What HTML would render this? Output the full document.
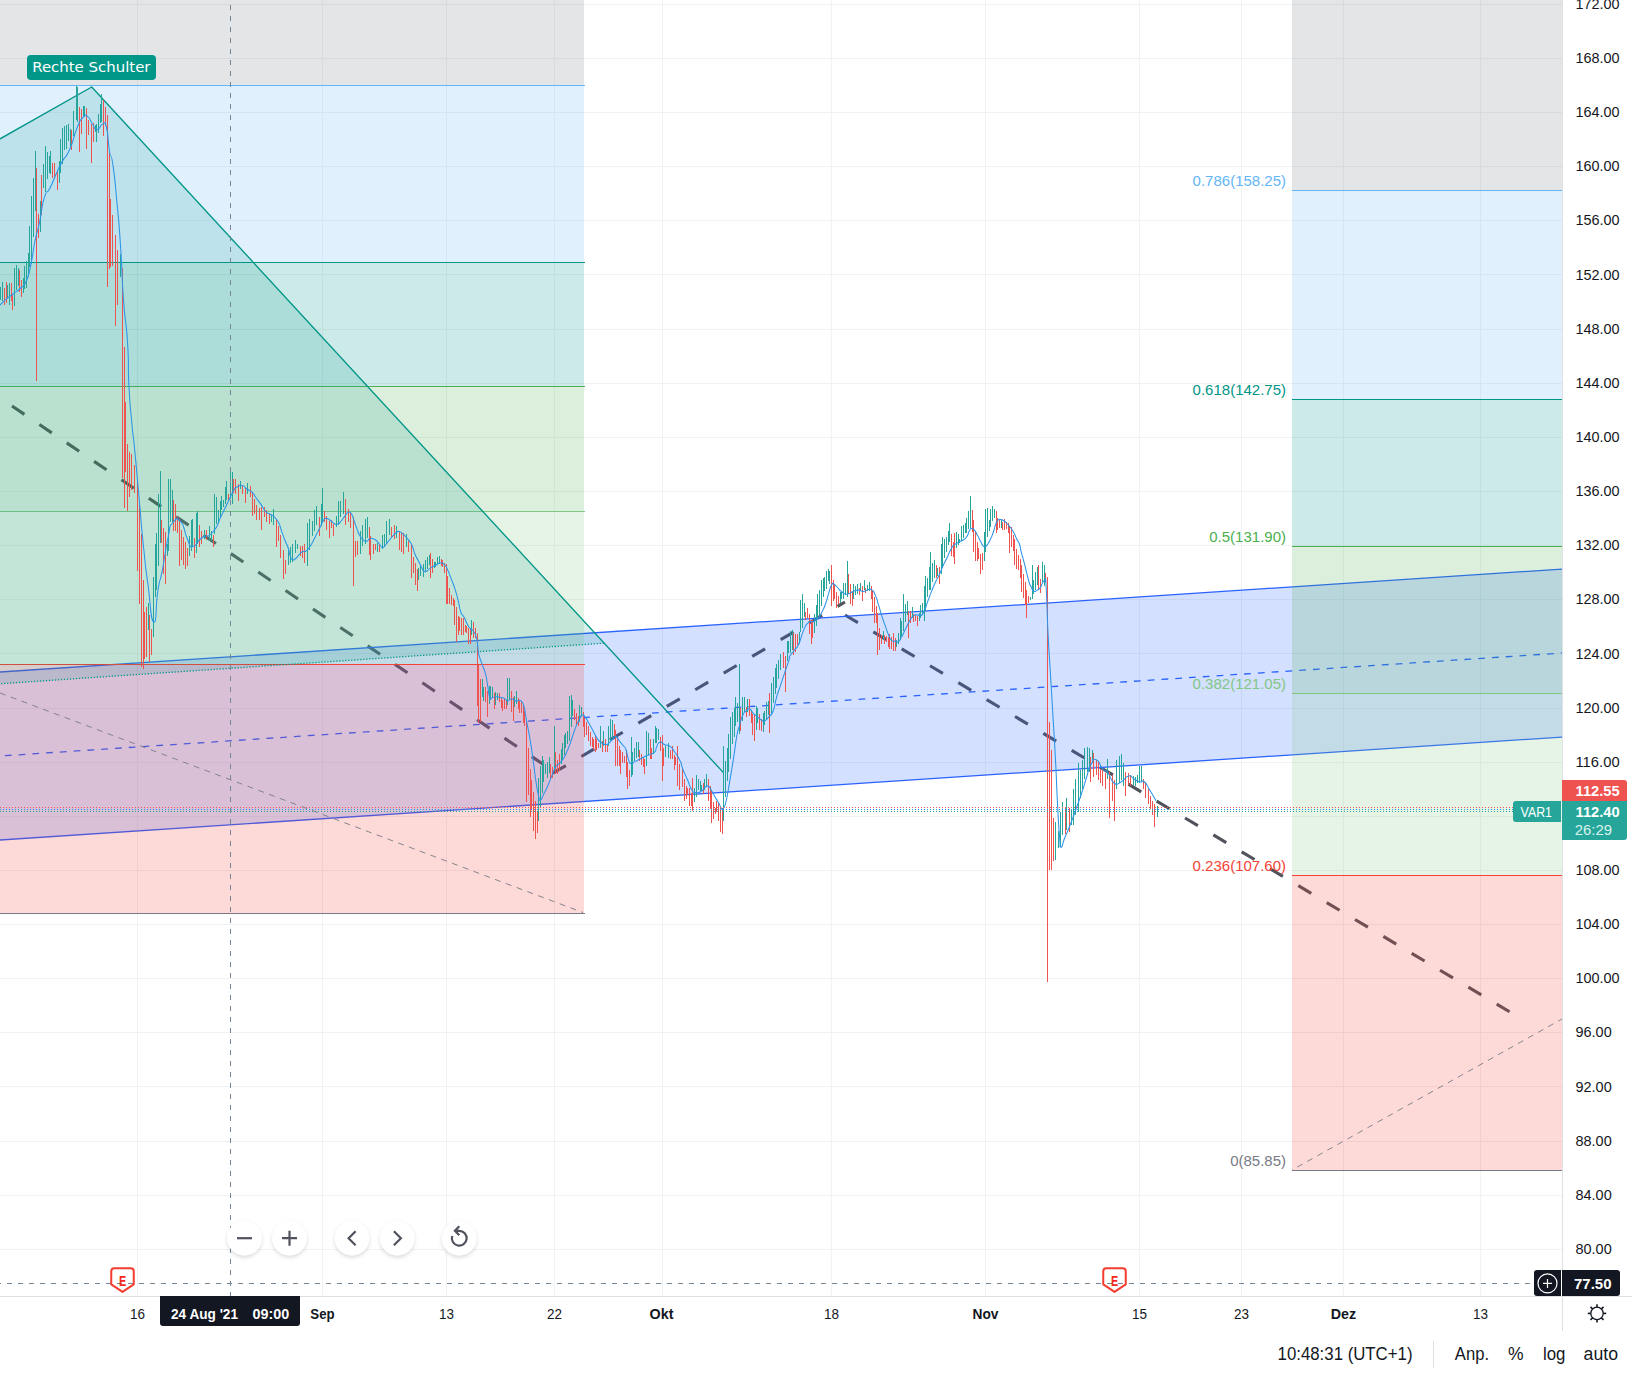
<!DOCTYPE html>
<html lang="de"><head><meta charset="utf-8"><title>Chart</title>
<style>
html,body{margin:0;padding:0;background:#fff;}
body{width:1632px;height:1378px;overflow:hidden;font-family:"Liberation Sans", "DejaVu Sans", sans-serif;}
svg{display:block;position:absolute;left:0;top:0}
text{font-family:"Liberation Sans", "DejaVu Sans", sans-serif;}
.ax{font-size:15px;fill:#131722}
.axb{font-size:15px;fill:#131722;font-weight:bold}
.fib{font-size:15px}
.bb{font-size:17.5px;fill:#131722}
</style></head><body>
<svg width="1632" height="1378" viewBox="0 0 1632 1378">
<defs>
<clipPath id="pane"><rect x="0" y="0" width="1562" height="1296"/></clipPath>
<filter id="sh" x="-50%" y="-50%" width="200%" height="200%"><feGaussianBlur stdDeviation="2.2"/></filter>
</defs>
<rect width="1632" height="1378" fill="#fff"/>

<g shape-rendering="crispEdges" stroke="#f0f2f3" stroke-width="1">
<line x1="137.5" y1="0" x2="137.5" y2="1296"/>
<line x1="322.5" y1="0" x2="322.5" y2="1296"/>
<line x1="446.5" y1="0" x2="446.5" y2="1296"/>
<line x1="554.5" y1="0" x2="554.5" y2="1296"/>
<line x1="662.5" y1="0" x2="662.5" y2="1296"/>
<line x1="831.5" y1="0" x2="831.5" y2="1296"/>
<line x1="985.5" y1="0" x2="985.5" y2="1296"/>
<line x1="1139.5" y1="0" x2="1139.5" y2="1296"/>
<line x1="1241.5" y1="0" x2="1241.5" y2="1296"/>
<line x1="1343.5" y1="0" x2="1343.5" y2="1296"/>
<line x1="1480.5" y1="0" x2="1480.5" y2="1296"/>
<line x1="0" y1="4.5" x2="1562" y2="4.5"/>
<line x1="0" y1="58.5" x2="1562" y2="58.5"/>
<line x1="0" y1="112.5" x2="1562" y2="112.5"/>
<line x1="0" y1="166.5" x2="1562" y2="166.5"/>
<line x1="0" y1="220.5" x2="1562" y2="220.5"/>
<line x1="0" y1="274.5" x2="1562" y2="274.5"/>
<line x1="0" y1="329.5" x2="1562" y2="329.5"/>
<line x1="0" y1="383.5" x2="1562" y2="383.5"/>
<line x1="0" y1="437.5" x2="1562" y2="437.5"/>
<line x1="0" y1="491.5" x2="1562" y2="491.5"/>
<line x1="0" y1="545.5" x2="1562" y2="545.5"/>
<line x1="0" y1="599.5" x2="1562" y2="599.5"/>
<line x1="0" y1="653.5" x2="1562" y2="653.5"/>
<line x1="0" y1="708.5" x2="1562" y2="708.5"/>
<line x1="0" y1="762.5" x2="1562" y2="762.5"/>
<line x1="0" y1="816.5" x2="1562" y2="816.5"/>
<line x1="0" y1="870.5" x2="1562" y2="870.5"/>
<line x1="0" y1="924.5" x2="1562" y2="924.5"/>
<line x1="0" y1="978.5" x2="1562" y2="978.5"/>
<line x1="0" y1="1032.5" x2="1562" y2="1032.5"/>
<line x1="0" y1="1086.5" x2="1562" y2="1086.5"/>
<line x1="0" y1="1141.5" x2="1562" y2="1141.5"/>
<line x1="0" y1="1195.5" x2="1562" y2="1195.5"/>
<line x1="0" y1="1249.5" x2="1562" y2="1249.5"/>
</g>
<g clip-path="url(#pane)">
<line x1="12" y1="406" x2="543.5" y2="764.5" stroke="#131722" stroke-opacity="0.74" stroke-width="3.1" stroke-dasharray="15 18" fill="none"/>
<line x1="552.9" y1="773.2" x2="845" y2="602" stroke="#131722" stroke-opacity="0.74" stroke-width="3.1" stroke-dasharray="15 18" fill="none"/>
<line x1="845" y1="615" x2="1510" y2="1012" stroke="#131722" stroke-opacity="0.74" stroke-width="3.1" stroke-dasharray="15 18" fill="none"/>
<polygon points="-2,672.1318 1564,568.9324 1564,736.9324 -2,840.1318" fill="#2962ff" fill-opacity="0.2"/>
<line x1="-2" y1="672.1318" x2="1564" y2="568.9324" stroke="#2962ff" stroke-width="1.3"/>
<line x1="-2" y1="840.1318" x2="1564" y2="736.9324" stroke="#2962ff" stroke-width="1.3"/>
<line x1="-2" y1="756.1318" x2="1564" y2="652.9324" stroke="#2962ff" stroke-width="1.3" stroke-dasharray="6.8 7" stroke-dashoffset="7"/>
<g shape-rendering="crispEdges">
<rect x="0" y="0" width="584" height="85" fill="#787b86" fill-opacity="0.2"/>
<rect x="0" y="85" width="584" height="177" fill="#64b5f6" fill-opacity="0.2"/>
<rect x="0" y="262" width="584" height="124" fill="#009688" fill-opacity="0.2"/>
<rect x="0" y="386" width="584" height="125" fill="#4caf50" fill-opacity="0.2"/>
<rect x="0" y="511" width="584" height="153" fill="#81c784" fill-opacity="0.2"/>
<rect x="0" y="664" width="584" height="249" fill="#f44336" fill-opacity="0.2"/>
<rect x="0" y="85" width="585" height="1" fill="#64b5f6"/>
<rect x="0" y="262" width="585" height="1" fill="#009688"/>
<rect x="0" y="386" width="585" height="1" fill="#4caf50"/>
<rect x="0" y="511" width="585" height="1" fill="#81c784"/>
<rect x="0" y="664" width="585" height="1" fill="#f44336"/>
<rect x="0" y="913" width="585" height="1" fill="#787b86"/>
</g>
<g shape-rendering="crispEdges">
<rect x="1292" y="0" width="270" height="190" fill="#787b86" fill-opacity="0.2"/>
<rect x="1292" y="190" width="270" height="209" fill="#64b5f6" fill-opacity="0.2"/>
<rect x="1292" y="399" width="270" height="147" fill="#009688" fill-opacity="0.2"/>
<rect x="1292" y="546" width="270" height="147" fill="#4caf50" fill-opacity="0.2"/>
<rect x="1292" y="693" width="270" height="182" fill="#81c784" fill-opacity="0.2"/>
<rect x="1292" y="875" width="270" height="295" fill="#f44336" fill-opacity="0.2"/>
<rect x="1292" y="190" width="270" height="1" fill="#64b5f6"/>
<rect x="1292" y="399" width="270" height="1" fill="#009688"/>
<rect x="1292" y="546" width="270" height="1" fill="#4caf50"/>
<rect x="1292" y="693" width="270" height="1" fill="#81c784"/>
<rect x="1292" y="875" width="270" height="1" fill="#f44336"/>
<rect x="1292" y="1170" width="270" height="1" fill="#787b86"/>
</g>
<line x1="0" y1="693" x2="583" y2="912.5" stroke="#787b86" stroke-width="1" stroke-dasharray="6 5.5" opacity="0.9"/>
<line x1="1292" y1="1170" x2="1562" y2="1019" stroke="#787b86" stroke-width="1" stroke-dasharray="6 5.5" stroke-dashoffset="-6" opacity="0.9"/>
<polygon points="-2,140 91.7,87 603.6,643.2 -2,683.9" fill="#009688" fill-opacity="0.15"/>
<polyline points="-2,140 91.7,87 723.4,772.6" fill="none" stroke="#009688" stroke-width="1.35" stroke-linejoin="round"/>
<line x1="-2" y1="683.9" x2="604" y2="643.2" stroke="#009688" stroke-width="1.3" stroke-dasharray="1.3 1.7"/>
<g shape-rendering="crispEdges">
<rect x="107" y="115" width="1" height="172" fill="#ef5350"/>
<rect x="109" y="153" width="1" height="116" fill="#ef5350"/>
<rect x="110" y="199" width="1" height="68" fill="#ef5350"/>
<rect x="112" y="215" width="1" height="51" fill="#ef5350"/>
<rect x="115" y="235" width="1" height="91" fill="#ef5350"/>
<rect x="117" y="250" width="1" height="55" fill="#ef5350"/>
<rect x="120" y="254" width="1" height="23" fill="#26a69a"/>
<rect x="122" y="268" width="1" height="210" fill="#ef5350"/>
<rect x="124" y="347" width="1" height="161" fill="#ef5350"/>
<rect x="125" y="402" width="1" height="70" fill="#ef5350"/>
<rect x="127" y="444" width="1" height="67" fill="#ef5350"/>
<rect x="129" y="452" width="1" height="45" fill="#ef5350"/>
<rect x="131" y="454" width="1" height="36" fill="#ef5350"/>
<rect x="134" y="465" width="1" height="28" fill="#ef5350"/>
<rect x="137" y="481" width="1" height="90" fill="#ef5350"/>
<rect x="139" y="504" width="1" height="100" fill="#ef5350"/>
<rect x="141" y="534" width="1" height="133" fill="#ef5350"/>
<rect x="143" y="580" width="1" height="89" fill="#ef5350"/>
<rect x="144" y="612" width="1" height="47" fill="#ef5350"/>
<rect x="146" y="607" width="1" height="50" fill="#ef5350"/>
<rect x="148" y="603" width="1" height="27" fill="#26a69a"/>
<rect x="149" y="615" width="1" height="47" fill="#ef5350"/>
<rect x="151" y="629" width="1" height="26" fill="#ef5350"/>
<rect x="153" y="577" width="1" height="60" fill="#26a69a"/>
<rect x="155" y="544" width="1" height="53" fill="#26a69a"/>
<rect x="156" y="533" width="1" height="57" fill="#26a69a"/>
<rect x="158" y="494" width="1" height="72" fill="#26a69a"/>
<rect x="160" y="471" width="1" height="72" fill="#26a69a"/>
<rect x="161" y="520" width="1" height="23" fill="#ef5350"/>
<rect x="163" y="528" width="1" height="46" fill="#ef5350"/>
<rect x="165" y="532" width="1" height="52" fill="#ef5350"/>
<rect x="167" y="544" width="1" height="12" fill="#26a69a"/>
<rect x="168" y="479" width="1" height="72" fill="#26a69a"/>
<rect x="170" y="479" width="1" height="43" fill="#26a69a"/>
<rect x="172" y="490" width="1" height="32" fill="#26a69a"/>
<rect x="173" y="500" width="1" height="31" fill="#ef5350"/>
<rect x="175" y="504" width="1" height="27" fill="#ef5350"/>
<rect x="177" y="517" width="1" height="16" fill="#ef5350"/>
<rect x="179" y="519" width="1" height="47" fill="#ef5350"/>
<rect x="181" y="530" width="1" height="30" fill="#ef5350"/>
<rect x="183" y="537" width="1" height="28" fill="#ef5350"/>
<rect x="185" y="542" width="1" height="27" fill="#ef5350"/>
<rect x="187" y="548" width="1" height="18" fill="#ef5350"/>
<rect x="189" y="536" width="1" height="20" fill="#26a69a"/>
<rect x="191" y="520" width="1" height="31" fill="#26a69a"/>
<rect x="192" y="519" width="1" height="27" fill="#26a69a"/>
<rect x="194" y="538" width="1" height="20" fill="#ef5350"/>
<rect x="196" y="513" width="1" height="40" fill="#26a69a"/>
<rect x="197" y="511" width="1" height="33" fill="#26a69a"/>
<rect x="199" y="525" width="1" height="22" fill="#ef5350"/>
<rect x="201" y="531" width="1" height="13" fill="#ef5350"/>
<rect x="204" y="530" width="1" height="9" fill="#26a69a"/>
<rect x="206" y="530" width="1" height="10" fill="#ef5350"/>
<rect x="209" y="526" width="1" height="14" fill="#26a69a"/>
<rect x="211" y="531" width="1" height="10" fill="#26a69a"/>
<rect x="213" y="535" width="1" height="12" fill="#ef5350"/>
<rect x="214" y="494" width="1" height="40" fill="#26a69a"/>
<rect x="216" y="497" width="1" height="27" fill="#26a69a"/>
<rect x="218" y="510" width="1" height="14" fill="#26a69a"/>
<rect x="220" y="501" width="1" height="16" fill="#26a69a"/>
<rect x="221" y="496" width="1" height="14" fill="#26a69a"/>
<rect x="223" y="500" width="1" height="7" fill="#26a69a"/>
<rect x="225" y="487" width="1" height="17" fill="#26a69a"/>
<rect x="226" y="481" width="1" height="19" fill="#26a69a"/>
<rect x="228" y="494" width="1" height="7" fill="#ef5350"/>
<rect x="29" y="226" width="1" height="41" fill="#26a69a"/>
<rect x="31" y="196" width="1" height="68" fill="#26a69a"/>
<rect x="33" y="178" width="1" height="59" fill="#26a69a"/>
<rect x="35" y="151" width="1" height="60" fill="#26a69a"/>
<rect x="36" y="168" width="1" height="213" fill="#ef5350"/>
<rect x="38" y="214" width="1" height="24" fill="#ef5350"/>
<rect x="40" y="201" width="1" height="31" fill="#26a69a"/>
<rect x="41" y="175" width="1" height="40" fill="#ef5350"/>
<rect x="43" y="164" width="1" height="24" fill="#26a69a"/>
<rect x="45" y="146" width="1" height="46" fill="#26a69a"/>
<rect x="47" y="152" width="1" height="27" fill="#26a69a"/>
<rect x="49" y="156" width="1" height="17" fill="#26a69a"/>
<rect x="50" y="151" width="1" height="23" fill="#26a69a"/>
<rect x="52" y="163" width="1" height="15" fill="#ef5350"/>
<rect x="54" y="163" width="1" height="16" fill="#ef5350"/>
<rect x="57" y="171" width="1" height="19" fill="#ef5350"/>
<rect x="59" y="161" width="1" height="22" fill="#26a69a"/>
<rect x="60" y="139" width="1" height="34" fill="#26a69a"/>
<rect x="62" y="128" width="1" height="36" fill="#26a69a"/>
<rect x="64" y="126" width="1" height="24" fill="#26a69a"/>
<rect x="66" y="125" width="1" height="24" fill="#26a69a"/>
<rect x="68" y="124" width="1" height="17" fill="#26a69a"/>
<rect x="70" y="129" width="1" height="17" fill="#26a69a"/>
<rect x="71" y="130" width="1" height="20" fill="#ef5350"/>
<rect x="73" y="111" width="1" height="25" fill="#26a69a"/>
<rect x="76" y="86" width="1" height="34" fill="#26a69a"/>
<rect x="77" y="87" width="1" height="35" fill="#26a69a"/>
<rect x="79" y="107" width="1" height="45" fill="#ef5350"/>
<rect x="81" y="109" width="1" height="25" fill="#ef5350"/>
<rect x="83" y="106" width="1" height="11" fill="#26a69a"/>
<rect x="84" y="106" width="1" height="11" fill="#26a69a"/>
<rect x="86" y="108" width="1" height="41" fill="#ef5350"/>
<rect x="88" y="120" width="1" height="15" fill="#ef5350"/>
<rect x="91" y="124" width="1" height="39" fill="#ef5350"/>
<rect x="93" y="123" width="1" height="19" fill="#ef5350"/>
<rect x="95" y="125" width="1" height="7" fill="#26a69a"/>
<rect x="96" y="124" width="1" height="18" fill="#26a69a"/>
<rect x="98" y="114" width="1" height="19" fill="#26a69a"/>
<rect x="100" y="104" width="1" height="19" fill="#26a69a"/>
<rect x="101" y="94" width="1" height="28" fill="#26a69a"/>
<rect x="103" y="100" width="1" height="36" fill="#ef5350"/>
<rect x="105" y="107" width="1" height="19" fill="#ef5350"/>
<rect x="1047" y="577" width="1" height="405" fill="#ef5350"/>
<rect x="1049" y="722" width="1" height="148" fill="#ef5350"/>
<rect x="1051" y="750" width="1" height="120" fill="#ef5350"/>
<rect x="1053" y="818" width="1" height="43" fill="#ef5350"/>
<rect x="1055" y="822" width="1" height="38" fill="#26a69a"/>
<rect x="1058" y="831" width="1" height="17" fill="#26a69a"/>
<rect x="1060" y="812" width="1" height="35" fill="#26a69a"/>
<rect x="1062" y="802" width="1" height="33" fill="#26a69a"/>
<rect x="1065" y="808" width="1" height="26" fill="#ef5350"/>
<rect x="1066" y="798" width="1" height="32" fill="#26a69a"/>
<rect x="1069" y="808" width="1" height="24" fill="#ef5350"/>
<rect x="1071" y="809" width="1" height="16" fill="#26a69a"/>
<rect x="1073" y="789" width="1" height="36" fill="#26a69a"/>
<rect x="1075" y="779" width="1" height="36" fill="#26a69a"/>
<rect x="1078" y="763" width="1" height="49" fill="#26a69a"/>
<rect x="1080" y="770" width="1" height="28" fill="#26a69a"/>
<rect x="1082" y="760" width="1" height="29" fill="#26a69a"/>
<rect x="1084" y="748" width="1" height="31" fill="#26a69a"/>
<rect x="1087" y="747" width="1" height="25" fill="#26a69a"/>
<rect x="1089" y="748" width="1" height="24" fill="#26a69a"/>
<rect x="1090" y="757" width="1" height="25" fill="#ef5350"/>
<rect x="1092" y="750" width="1" height="13" fill="#26a69a"/>
<rect x="1093" y="753" width="1" height="24" fill="#ef5350"/>
<rect x="1096" y="760" width="1" height="15" fill="#ef5350"/>
<rect x="1098" y="761" width="1" height="19" fill="#ef5350"/>
<rect x="1100" y="769" width="1" height="14" fill="#ef5350"/>
<rect x="1102" y="769" width="1" height="17" fill="#ef5350"/>
<rect x="1105" y="773" width="1" height="16" fill="#ef5350"/>
<rect x="1107" y="759" width="1" height="20" fill="#26a69a"/>
<rect x="1109" y="772" width="1" height="46" fill="#ef5350"/>
<rect x="1112" y="775" width="1" height="26" fill="#ef5350"/>
<rect x="1114" y="780" width="1" height="41" fill="#ef5350"/>
<rect x="1116" y="760" width="1" height="29" fill="#26a69a"/>
<rect x="1119" y="756" width="1" height="27" fill="#26a69a"/>
<rect x="1121" y="754" width="1" height="26" fill="#26a69a"/>
<rect x="1123" y="763" width="1" height="23" fill="#26a69a"/>
<rect x="1125" y="772" width="1" height="24" fill="#ef5350"/>
<rect x="1128" y="773" width="1" height="12" fill="#ef5350"/>
<rect x="1130" y="775" width="1" height="11" fill="#ef5350"/>
<rect x="1133" y="776" width="1" height="9" fill="#26a69a"/>
<rect x="1135" y="777" width="1" height="9" fill="#26a69a"/>
<rect x="1137" y="775" width="1" height="8" fill="#26a69a"/>
<rect x="1139" y="766" width="1" height="17" fill="#26a69a"/>
<rect x="1141" y="766" width="1" height="16" fill="#26a69a"/>
<rect x="1143" y="779" width="1" height="10" fill="#ef5350"/>
<rect x="1145" y="782" width="1" height="16" fill="#ef5350"/>
<rect x="1148" y="789" width="1" height="15" fill="#ef5350"/>
<rect x="1150" y="796" width="1" height="13" fill="#ef5350"/>
<rect x="1152" y="801" width="1" height="14" fill="#ef5350"/>
<rect x="1154" y="804" width="1" height="23" fill="#ef5350"/>
<rect x="1157" y="806" width="1" height="11" fill="#26a69a"/>
<rect x="230" y="472" width="1" height="27" fill="#26a69a"/>
<rect x="232" y="472" width="1" height="32" fill="#26a69a"/>
<rect x="233" y="479" width="1" height="14" fill="#ef5350"/>
<rect x="235" y="479" width="1" height="15" fill="#ef5350"/>
<rect x="238" y="484" width="1" height="17" fill="#ef5350"/>
<rect x="240" y="481" width="1" height="8" fill="#26a69a"/>
<rect x="242" y="486" width="1" height="8" fill="#ef5350"/>
<rect x="245" y="488" width="1" height="15" fill="#ef5350"/>
<rect x="247" y="483" width="1" height="11" fill="#26a69a"/>
<rect x="250" y="486" width="1" height="11" fill="#ef5350"/>
<rect x="252" y="492" width="1" height="24" fill="#ef5350"/>
<rect x="254" y="499" width="1" height="15" fill="#ef5350"/>
<rect x="256" y="505" width="1" height="15" fill="#ef5350"/>
<rect x="259" y="508" width="1" height="12" fill="#ef5350"/>
<rect x="261" y="507" width="1" height="23" fill="#ef5350"/>
<rect x="264" y="507" width="1" height="10" fill="#ef5350"/>
<rect x="266" y="510" width="1" height="12" fill="#ef5350"/>
<rect x="269" y="514" width="1" height="10" fill="#ef5350"/>
<rect x="271" y="515" width="1" height="7" fill="#26a69a"/>
<rect x="273" y="509" width="1" height="16" fill="#26a69a"/>
<rect x="276" y="519" width="1" height="28" fill="#ef5350"/>
<rect x="278" y="526" width="1" height="15" fill="#ef5350"/>
<rect x="280" y="535" width="1" height="23" fill="#ef5350"/>
<rect x="283" y="550" width="1" height="29" fill="#ef5350"/>
<rect x="285" y="560" width="1" height="14" fill="#ef5350"/>
<rect x="288" y="550" width="1" height="15" fill="#26a69a"/>
<rect x="290" y="547" width="1" height="16" fill="#26a69a"/>
<rect x="292" y="544" width="1" height="18" fill="#26a69a"/>
<rect x="295" y="540" width="1" height="13" fill="#26a69a"/>
<rect x="297" y="544" width="1" height="5" fill="#26a69a"/>
<rect x="300" y="546" width="1" height="10" fill="#ef5350"/>
<rect x="302" y="546" width="1" height="12" fill="#ef5350"/>
<rect x="304" y="544" width="1" height="19" fill="#ef5350"/>
<rect x="307" y="523" width="1" height="43" fill="#26a69a"/>
<rect x="309" y="519" width="1" height="31" fill="#26a69a"/>
<rect x="312" y="521" width="1" height="15" fill="#26a69a"/>
<rect x="314" y="510" width="1" height="21" fill="#26a69a"/>
<rect x="316" y="506" width="1" height="19" fill="#26a69a"/>
<rect x="319" y="517" width="1" height="19" fill="#ef5350"/>
<rect x="321" y="504" width="1" height="22" fill="#26a69a"/>
<rect x="322" y="488" width="1" height="34" fill="#26a69a"/>
<rect x="324" y="511" width="1" height="11" fill="#ef5350"/>
<rect x="326" y="516" width="1" height="14" fill="#ef5350"/>
<rect x="329" y="521" width="1" height="17" fill="#ef5350"/>
<rect x="331" y="520" width="1" height="8" fill="#ef5350"/>
<rect x="333" y="524" width="1" height="12" fill="#ef5350"/>
<rect x="336" y="516" width="1" height="11" fill="#26a69a"/>
<rect x="338" y="501" width="1" height="24" fill="#26a69a"/>
<rect x="340" y="501" width="1" height="16" fill="#26a69a"/>
<rect x="343" y="492" width="1" height="22" fill="#26a69a"/>
<rect x="345" y="499" width="1" height="26" fill="#ef5350"/>
<rect x="348" y="509" width="1" height="13" fill="#ef5350"/>
<rect x="350" y="512" width="1" height="16" fill="#ef5350"/>
<rect x="353" y="517" width="1" height="69" fill="#ef5350"/>
<rect x="355" y="541" width="1" height="16" fill="#ef5350"/>
<rect x="357" y="541" width="1" height="14" fill="#ef5350"/>
<rect x="360" y="531" width="1" height="23" fill="#26a69a"/>
<rect x="362" y="525" width="1" height="21" fill="#26a69a"/>
<rect x="365" y="519" width="1" height="25" fill="#26a69a"/>
<rect x="367" y="517" width="1" height="21" fill="#26a69a"/>
<rect x="369" y="527" width="1" height="28" fill="#ef5350"/>
<rect x="370" y="536" width="1" height="24" fill="#ef5350"/>
<rect x="373" y="544" width="1" height="10" fill="#ef5350"/>
<rect x="375" y="544" width="1" height="6" fill="#ef5350"/>
<rect x="377" y="543" width="1" height="9" fill="#26a69a"/>
<rect x="379" y="544" width="1" height="8" fill="#ef5350"/>
<rect x="382" y="535" width="1" height="14" fill="#26a69a"/>
<rect x="384" y="534" width="1" height="13" fill="#26a69a"/>
<rect x="386" y="521" width="1" height="23" fill="#26a69a"/>
<rect x="389" y="519" width="1" height="16" fill="#26a69a"/>
<rect x="391" y="527" width="1" height="10" fill="#ef5350"/>
<rect x="394" y="525" width="1" height="14" fill="#ef5350"/>
<rect x="396" y="526" width="1" height="12" fill="#26a69a"/>
<rect x="399" y="531" width="1" height="19" fill="#ef5350"/>
<rect x="401" y="533" width="1" height="19" fill="#ef5350"/>
<rect x="403" y="533" width="1" height="21" fill="#ef5350"/>
<rect x="406" y="534" width="1" height="13" fill="#26a69a"/>
<rect x="408" y="541" width="1" height="11" fill="#ef5350"/>
<rect x="411" y="544" width="1" height="34" fill="#ef5350"/>
<rect x="413" y="557" width="1" height="16" fill="#ef5350"/>
<rect x="415" y="563" width="1" height="22" fill="#ef5350"/>
<rect x="417" y="569" width="1" height="22" fill="#ef5350"/>
<rect x="418" y="568" width="1" height="12" fill="#26a69a"/>
<rect x="420" y="566" width="1" height="10" fill="#26a69a"/>
<rect x="423" y="564" width="1" height="13" fill="#26a69a"/>
<rect x="425" y="560" width="1" height="11" fill="#26a69a"/>
<rect x="427" y="557" width="1" height="12" fill="#26a69a"/>
<rect x="429" y="555" width="1" height="10" fill="#26a69a"/>
<rect x="655" y="726" width="1" height="17" fill="#26a69a"/>
<rect x="656" y="728" width="1" height="15" fill="#26a69a"/>
<rect x="658" y="729" width="1" height="11" fill="#26a69a"/>
<rect x="660" y="737" width="1" height="14" fill="#ef5350"/>
<rect x="662" y="735" width="1" height="46" fill="#ef5350"/>
<rect x="663" y="748" width="1" height="18" fill="#ef5350"/>
<rect x="665" y="746" width="1" height="11" fill="#26a69a"/>
<rect x="668" y="743" width="1" height="15" fill="#26a69a"/>
<rect x="670" y="750" width="1" height="9" fill="#ef5350"/>
<rect x="672" y="746" width="1" height="13" fill="#ef5350"/>
<rect x="674" y="755" width="1" height="15" fill="#ef5350"/>
<rect x="675" y="757" width="1" height="8" fill="#ef5350"/>
<rect x="677" y="746" width="1" height="40" fill="#ef5350"/>
<rect x="679" y="764" width="1" height="26" fill="#ef5350"/>
<rect x="682" y="769" width="1" height="18" fill="#ef5350"/>
<rect x="684" y="779" width="1" height="22" fill="#ef5350"/>
<rect x="686" y="786" width="1" height="13" fill="#ef5350"/>
<rect x="687" y="788" width="1" height="7" fill="#ef5350"/>
<rect x="689" y="788" width="1" height="18" fill="#ef5350"/>
<rect x="691" y="793" width="1" height="13" fill="#ef5350"/>
<rect x="692" y="778" width="1" height="33" fill="#ef5350"/>
<rect x="694" y="788" width="1" height="14" fill="#26a69a"/>
<rect x="696" y="775" width="1" height="22" fill="#26a69a"/>
<rect x="698" y="779" width="1" height="11" fill="#26a69a"/>
<rect x="700" y="781" width="1" height="10" fill="#26a69a"/>
<rect x="701" y="785" width="1" height="6" fill="#26a69a"/>
<rect x="703" y="783" width="1" height="11" fill="#ef5350"/>
<rect x="704" y="779" width="1" height="11" fill="#26a69a"/>
<rect x="706" y="774" width="1" height="13" fill="#26a69a"/>
<rect x="708" y="779" width="1" height="22" fill="#ef5350"/>
<rect x="710" y="786" width="1" height="23" fill="#ef5350"/>
<rect x="711" y="791" width="1" height="32" fill="#ef5350"/>
<rect x="713" y="802" width="1" height="17" fill="#ef5350"/>
<rect x="715" y="808" width="1" height="6" fill="#ef5350"/>
<rect x="716" y="801" width="1" height="11" fill="#ef5350"/>
<rect x="718" y="803" width="1" height="18" fill="#ef5350"/>
<rect x="720" y="808" width="1" height="24" fill="#ef5350"/>
<rect x="722" y="808" width="1" height="26" fill="#ef5350"/>
<rect x="723" y="746" width="1" height="75" fill="#26a69a"/>
<rect x="725" y="761" width="1" height="36" fill="#26a69a"/>
<rect x="727" y="748" width="1" height="33" fill="#26a69a"/>
<rect x="728" y="734" width="1" height="38" fill="#26a69a"/>
<rect x="730" y="717" width="1" height="42" fill="#26a69a"/>
<rect x="732" y="712" width="1" height="32" fill="#26a69a"/>
<rect x="734" y="708" width="1" height="29" fill="#26a69a"/>
<rect x="735" y="697" width="1" height="29" fill="#26a69a"/>
<rect x="737" y="703" width="1" height="19" fill="#26a69a"/>
<rect x="739" y="664" width="1" height="70" fill="#26a69a"/>
<rect x="740" y="708" width="1" height="23" fill="#ef5350"/>
<rect x="742" y="697" width="1" height="24" fill="#26a69a"/>
<rect x="744" y="697" width="1" height="15" fill="#26a69a"/>
<rect x="746" y="707" width="1" height="10" fill="#ef5350"/>
<rect x="747" y="699" width="1" height="13" fill="#26a69a"/>
<rect x="749" y="699" width="1" height="17" fill="#ef5350"/>
<rect x="751" y="710" width="1" height="13" fill="#ef5350"/>
<rect x="752" y="714" width="1" height="21" fill="#ef5350"/>
<rect x="754" y="714" width="1" height="27" fill="#ef5350"/>
<rect x="756" y="706" width="1" height="24" fill="#26a69a"/>
<rect x="757" y="708" width="1" height="15" fill="#26a69a"/>
<rect x="759" y="714" width="1" height="16" fill="#ef5350"/>
<rect x="761" y="719" width="1" height="12" fill="#ef5350"/>
<rect x="763" y="713" width="1" height="19" fill="#26a69a"/>
<rect x="764" y="711" width="1" height="14" fill="#26a69a"/>
<rect x="766" y="702" width="1" height="17" fill="#26a69a"/>
<rect x="768" y="701" width="1" height="14" fill="#26a69a"/>
<rect x="769" y="693" width="1" height="40" fill="#ef5350"/>
<rect x="771" y="683" width="1" height="32" fill="#26a69a"/>
<rect x="773" y="677" width="1" height="26" fill="#26a69a"/>
<rect x="775" y="668" width="1" height="26" fill="#26a69a"/>
<rect x="776" y="664" width="1" height="24" fill="#26a69a"/>
<rect x="778" y="660" width="1" height="19" fill="#26a69a"/>
<rect x="780" y="654" width="1" height="16" fill="#26a69a"/>
<rect x="783" y="652" width="1" height="16" fill="#ef5350"/>
<rect x="785" y="656" width="1" height="36" fill="#ef5350"/>
<rect x="787" y="641" width="1" height="20" fill="#26a69a"/>
<rect x="788" y="641" width="1" height="12" fill="#26a69a"/>
<rect x="790" y="631" width="1" height="22" fill="#26a69a"/>
<rect x="792" y="630" width="1" height="20" fill="#26a69a"/>
<rect x="793" y="633" width="1" height="22" fill="#ef5350"/>
<rect x="795" y="634" width="1" height="18" fill="#ef5350"/>
<rect x="797" y="634" width="1" height="11" fill="#ef5350"/>
<rect x="799" y="632" width="1" height="12" fill="#26a69a"/>
<rect x="800" y="600" width="1" height="32" fill="#26a69a"/>
<rect x="802" y="594" width="1" height="34" fill="#26a69a"/>
<rect x="804" y="603" width="1" height="14" fill="#26a69a"/>
<rect x="805" y="612" width="1" height="8" fill="#ef5350"/>
<rect x="807" y="608" width="1" height="10" fill="#ef5350"/>
<rect x="809" y="614" width="1" height="20" fill="#ef5350"/>
<rect x="811" y="620" width="1" height="24" fill="#ef5350"/>
<rect x="812" y="620" width="1" height="18" fill="#ef5350"/>
<rect x="814" y="614" width="1" height="19" fill="#26a69a"/>
<rect x="816" y="605" width="1" height="21" fill="#26a69a"/>
<rect x="817" y="594" width="1" height="26" fill="#26a69a"/>
<rect x="819" y="590" width="1" height="25" fill="#26a69a"/>
<rect x="821" y="580" width="1" height="26" fill="#26a69a"/>
<rect x="823" y="578" width="1" height="19" fill="#26a69a"/>
<rect x="824" y="577" width="1" height="14" fill="#26a69a"/>
<rect x="826" y="571" width="1" height="18" fill="#26a69a"/>
<rect x="828" y="569" width="1" height="12" fill="#26a69a"/>
<rect x="829" y="571" width="1" height="13" fill="#26a69a"/>
<rect x="831" y="565" width="1" height="41" fill="#ef5350"/>
<rect x="833" y="580" width="1" height="21" fill="#ef5350"/>
<rect x="834" y="585" width="1" height="14" fill="#ef5350"/>
<rect x="836" y="592" width="1" height="16" fill="#ef5350"/>
<rect x="838" y="596" width="1" height="8" fill="#ef5350"/>
<rect x="840" y="592" width="1" height="11" fill="#26a69a"/>
<rect x="841" y="591" width="1" height="8" fill="#26a69a"/>
<rect x="843" y="583" width="1" height="16" fill="#26a69a"/>
<rect x="845" y="583" width="1" height="12" fill="#26a69a"/>
<rect x="847" y="561" width="1" height="36" fill="#26a69a"/>
<rect x="848" y="574" width="1" height="20" fill="#ef5350"/>
<rect x="850" y="584" width="1" height="20" fill="#ef5350"/>
<rect x="852" y="591" width="1" height="15" fill="#ef5350"/>
<rect x="853" y="584" width="1" height="15" fill="#26a69a"/>
<rect x="855" y="586" width="1" height="9" fill="#26a69a"/>
<rect x="857" y="584" width="1" height="10" fill="#26a69a"/>
<rect x="859" y="588" width="1" height="7" fill="#ef5350"/>
<rect x="860" y="583" width="1" height="8" fill="#26a69a"/>
<rect x="862" y="586" width="1" height="15" fill="#ef5350"/>
<rect x="864" y="580" width="1" height="10" fill="#26a69a"/>
<rect x="865" y="588" width="1" height="5" fill="#ef5350"/>
<rect x="867" y="585" width="1" height="6" fill="#26a69a"/>
<rect x="869" y="582" width="1" height="9" fill="#26a69a"/>
<rect x="871" y="586" width="1" height="13" fill="#ef5350"/>
<rect x="872" y="591" width="1" height="21" fill="#ef5350"/>
<rect x="874" y="597" width="1" height="26" fill="#ef5350"/>
<rect x="876" y="606" width="1" height="17" fill="#ef5350"/>
<rect x="877" y="613" width="1" height="42" fill="#ef5350"/>
<rect x="879" y="628" width="1" height="22" fill="#ef5350"/>
<rect x="881" y="635" width="1" height="9" fill="#ef5350"/>
<rect x="883" y="631" width="1" height="9" fill="#26a69a"/>
<rect x="884" y="635" width="1" height="9" fill="#ef5350"/>
<rect x="886" y="636" width="1" height="6" fill="#ef5350"/>
<rect x="888" y="637" width="1" height="10" fill="#ef5350"/>
<rect x="889" y="634" width="1" height="15" fill="#ef5350"/>
<rect x="891" y="637" width="1" height="12" fill="#ef5350"/>
<rect x="893" y="633" width="1" height="18" fill="#ef5350"/>
<rect x="895" y="638" width="1" height="13" fill="#ef5350"/>
<rect x="896" y="640" width="1" height="7" fill="#26a69a"/>
<rect x="898" y="633" width="1" height="11" fill="#26a69a"/>
<rect x="900" y="618" width="1" height="22" fill="#26a69a"/>
<rect x="901" y="621" width="1" height="15" fill="#26a69a"/>
<rect x="903" y="594" width="1" height="37" fill="#26a69a"/>
<rect x="905" y="604" width="1" height="18" fill="#26a69a"/>
<rect x="907" y="601" width="1" height="14" fill="#26a69a"/>
<rect x="908" y="611" width="1" height="27" fill="#ef5350"/>
<rect x="910" y="611" width="1" height="12" fill="#ef5350"/>
<rect x="912" y="607" width="1" height="11" fill="#26a69a"/>
<rect x="913" y="614" width="1" height="8" fill="#ef5350"/>
<rect x="915" y="615" width="1" height="6" fill="#ef5350"/>
<rect x="917" y="616" width="1" height="10" fill="#ef5350"/>
<rect x="919" y="613" width="1" height="8" fill="#26a69a"/>
<rect x="920" y="605" width="1" height="13" fill="#26a69a"/>
<rect x="922" y="603" width="1" height="12" fill="#26a69a"/>
<rect x="924" y="586" width="1" height="35" fill="#26a69a"/>
<rect x="925" y="576" width="1" height="35" fill="#26a69a"/>
<rect x="927" y="578" width="1" height="19" fill="#26a69a"/>
<rect x="929" y="567" width="1" height="23" fill="#26a69a"/>
<rect x="930" y="552" width="1" height="38" fill="#26a69a"/>
<rect x="932" y="563" width="1" height="19" fill="#26a69a"/>
<rect x="934" y="560" width="1" height="18" fill="#26a69a"/>
<rect x="936" y="565" width="1" height="13" fill="#ef5350"/>
<rect x="937" y="568" width="1" height="8" fill="#26a69a"/>
<rect x="939" y="567" width="1" height="17" fill="#ef5350"/>
<rect x="941" y="544" width="1" height="30" fill="#26a69a"/>
<rect x="942" y="537" width="1" height="31" fill="#26a69a"/>
<rect x="944" y="539" width="1" height="19" fill="#26a69a"/>
<rect x="946" y="537" width="1" height="15" fill="#26a69a"/>
<rect x="948" y="531" width="1" height="14" fill="#26a69a"/>
<rect x="949" y="523" width="1" height="19" fill="#26a69a"/>
<rect x="951" y="534" width="1" height="22" fill="#ef5350"/>
<rect x="953" y="542" width="1" height="15" fill="#ef5350"/>
<rect x="954" y="533" width="1" height="31" fill="#ef5350"/>
<rect x="956" y="532" width="1" height="16" fill="#26a69a"/>
<rect x="958" y="534" width="1" height="11" fill="#26a69a"/>
<rect x="959" y="539" width="1" height="4" fill="#26a69a"/>
<rect x="961" y="526" width="1" height="15" fill="#26a69a"/>
<rect x="963" y="525" width="1" height="13" fill="#26a69a"/>
<rect x="965" y="523" width="1" height="10" fill="#26a69a"/>
<rect x="966" y="518" width="1" height="15" fill="#26a69a"/>
<rect x="968" y="511" width="1" height="18" fill="#26a69a"/>
<rect x="970" y="496" width="1" height="32" fill="#26a69a"/>
<rect x="972" y="510" width="1" height="22" fill="#ef5350"/>
<rect x="973" y="520" width="1" height="32" fill="#ef5350"/>
<rect x="975" y="531" width="1" height="30" fill="#ef5350"/>
<rect x="977" y="542" width="1" height="19" fill="#ef5350"/>
<rect x="978" y="548" width="1" height="11" fill="#ef5350"/>
<rect x="980" y="554" width="1" height="20" fill="#ef5350"/>
<rect x="982" y="553" width="1" height="17" fill="#ef5350"/>
<rect x="984" y="532" width="1" height="29" fill="#26a69a"/>
<rect x="985" y="509" width="1" height="43" fill="#26a69a"/>
<rect x="987" y="508" width="1" height="29" fill="#26a69a"/>
<rect x="989" y="520" width="1" height="11" fill="#26a69a"/>
<rect x="990" y="509" width="1" height="18" fill="#26a69a"/>
<rect x="992" y="506" width="1" height="15" fill="#26a69a"/>
<rect x="994" y="509" width="1" height="9" fill="#26a69a"/>
<rect x="996" y="511" width="1" height="22" fill="#ef5350"/>
<rect x="997" y="518" width="1" height="12" fill="#ef5350"/>
<rect x="999" y="520" width="1" height="8" fill="#ef5350"/>
<rect x="1001" y="520" width="1" height="8" fill="#26a69a"/>
<rect x="1002" y="522" width="1" height="8" fill="#ef5350"/>
<rect x="1004" y="519" width="1" height="11" fill="#ef5350"/>
<rect x="1006" y="522" width="1" height="7" fill="#ef5350"/>
<rect x="1008" y="523" width="1" height="10" fill="#ef5350"/>
<rect x="1009" y="527" width="1" height="26" fill="#ef5350"/>
<rect x="1011" y="527" width="1" height="20" fill="#ef5350"/>
<rect x="1013" y="535" width="1" height="16" fill="#ef5350"/>
<rect x="1014" y="539" width="1" height="26" fill="#ef5350"/>
<rect x="1016" y="549" width="1" height="20" fill="#ef5350"/>
<rect x="1018" y="555" width="1" height="15" fill="#ef5350"/>
<rect x="1020" y="559" width="1" height="19" fill="#ef5350"/>
<rect x="1021" y="565" width="1" height="27" fill="#ef5350"/>
<rect x="1023" y="574" width="1" height="24" fill="#ef5350"/>
<rect x="1025" y="582" width="1" height="23" fill="#ef5350"/>
<rect x="1026" y="590" width="1" height="28" fill="#ef5350"/>
<rect x="1028" y="596" width="1" height="7" fill="#ef5350"/>
<rect x="1030" y="597" width="1" height="3" fill="#26a69a"/>
<rect x="1032" y="565" width="1" height="34" fill="#26a69a"/>
<rect x="1033" y="580" width="1" height="14" fill="#26a69a"/>
<rect x="1035" y="572" width="1" height="18" fill="#26a69a"/>
<rect x="1037" y="567" width="1" height="18" fill="#26a69a"/>
<rect x="1038" y="565" width="1" height="24" fill="#ef5350"/>
<rect x="1040" y="579" width="1" height="14" fill="#ef5350"/>
<rect x="1042" y="562" width="1" height="21" fill="#26a69a"/>
<rect x="1044" y="565" width="1" height="21" fill="#26a69a"/>
<rect x="1045" y="573" width="1" height="10" fill="#ef5350"/>
<rect x="430" y="553" width="1" height="25" fill="#ef5350"/>
<rect x="432" y="559" width="1" height="14" fill="#ef5350"/>
<rect x="434" y="562" width="1" height="6" fill="#26a69a"/>
<rect x="435" y="562" width="1" height="5" fill="#26a69a"/>
<rect x="437" y="557" width="1" height="8" fill="#26a69a"/>
<rect x="439" y="556" width="1" height="8" fill="#26a69a"/>
<rect x="441" y="559" width="1" height="7" fill="#ef5350"/>
<rect x="442" y="560" width="1" height="7" fill="#ef5350"/>
<rect x="444" y="563" width="1" height="10" fill="#ef5350"/>
<rect x="446" y="564" width="1" height="40" fill="#ef5350"/>
<rect x="447" y="576" width="1" height="28" fill="#ef5350"/>
<rect x="449" y="588" width="1" height="16" fill="#ef5350"/>
<rect x="451" y="595" width="1" height="10" fill="#ef5350"/>
<rect x="453" y="598" width="1" height="8" fill="#ef5350"/>
<rect x="454" y="600" width="1" height="25" fill="#ef5350"/>
<rect x="456" y="607" width="1" height="35" fill="#ef5350"/>
<rect x="458" y="616" width="1" height="19" fill="#ef5350"/>
<rect x="459" y="617" width="1" height="14" fill="#ef5350"/>
<rect x="461" y="618" width="1" height="17" fill="#ef5350"/>
<rect x="463" y="618" width="1" height="17" fill="#ef5350"/>
<rect x="465" y="625" width="1" height="7" fill="#ef5350"/>
<rect x="466" y="626" width="1" height="7" fill="#ef5350"/>
<rect x="468" y="628" width="1" height="16" fill="#ef5350"/>
<rect x="470" y="629" width="1" height="15" fill="#ef5350"/>
<rect x="471" y="620" width="1" height="15" fill="#26a69a"/>
<rect x="473" y="622" width="1" height="16" fill="#ef5350"/>
<rect x="475" y="628" width="1" height="10" fill="#ef5350"/>
<rect x="477" y="633" width="1" height="73" fill="#ef5350"/>
<rect x="478" y="665" width="1" height="58" fill="#ef5350"/>
<rect x="480" y="679" width="1" height="43" fill="#ef5350"/>
<rect x="482" y="679" width="1" height="18" fill="#26a69a"/>
<rect x="483" y="687" width="1" height="14" fill="#26a69a"/>
<rect x="485" y="687" width="1" height="15" fill="#ef5350"/>
<rect x="487" y="691" width="1" height="26" fill="#ef5350"/>
<rect x="489" y="686" width="1" height="18" fill="#26a69a"/>
<rect x="490" y="686" width="1" height="14" fill="#26a69a"/>
<rect x="492" y="687" width="1" height="10" fill="#26a69a"/>
<rect x="494" y="693" width="1" height="16" fill="#ef5350"/>
<rect x="495" y="692" width="1" height="13" fill="#26a69a"/>
<rect x="497" y="693" width="1" height="7" fill="#26a69a"/>
<rect x="499" y="693" width="1" height="9" fill="#ef5350"/>
<rect x="501" y="697" width="1" height="11" fill="#ef5350"/>
<rect x="502" y="700" width="1" height="11" fill="#ef5350"/>
<rect x="504" y="699" width="1" height="10" fill="#ef5350"/>
<rect x="506" y="700" width="1" height="9" fill="#ef5350"/>
<rect x="507" y="678" width="1" height="27" fill="#26a69a"/>
<rect x="509" y="678" width="1" height="22" fill="#26a69a"/>
<rect x="511" y="691" width="1" height="21" fill="#ef5350"/>
<rect x="513" y="697" width="1" height="24" fill="#ef5350"/>
<rect x="514" y="696" width="1" height="11" fill="#26a69a"/>
<rect x="516" y="691" width="1" height="13" fill="#26a69a"/>
<rect x="518" y="698" width="1" height="11" fill="#ef5350"/>
<rect x="519" y="700" width="1" height="13" fill="#ef5350"/>
<rect x="521" y="701" width="1" height="12" fill="#ef5350"/>
<rect x="523" y="704" width="1" height="19" fill="#ef5350"/>
<rect x="524" y="711" width="1" height="15" fill="#ef5350"/>
<rect x="526" y="721" width="1" height="81" fill="#ef5350"/>
<rect x="528" y="748" width="1" height="47" fill="#ef5350"/>
<rect x="530" y="769" width="1" height="48" fill="#ef5350"/>
<rect x="531" y="780" width="1" height="29" fill="#ef5350"/>
<rect x="533" y="792" width="1" height="39" fill="#ef5350"/>
<rect x="535" y="801" width="1" height="38" fill="#ef5350"/>
<rect x="537" y="812" width="1" height="21" fill="#ef5350"/>
<rect x="538" y="778" width="1" height="43" fill="#26a69a"/>
<rect x="540" y="766" width="1" height="42" fill="#26a69a"/>
<rect x="542" y="756" width="1" height="37" fill="#26a69a"/>
<rect x="543" y="760" width="1" height="22" fill="#26a69a"/>
<rect x="545" y="764" width="1" height="10" fill="#26a69a"/>
<rect x="547" y="762" width="1" height="16" fill="#26a69a"/>
<rect x="549" y="757" width="1" height="16" fill="#26a69a"/>
<rect x="550" y="764" width="1" height="15" fill="#ef5350"/>
<rect x="552" y="767" width="1" height="11" fill="#ef5350"/>
<rect x="554" y="726" width="1" height="45" fill="#26a69a"/>
<rect x="555" y="752" width="1" height="22" fill="#ef5350"/>
<rect x="557" y="760" width="1" height="14" fill="#ef5350"/>
<rect x="559" y="754" width="1" height="17" fill="#ef5350"/>
<rect x="561" y="749" width="1" height="15" fill="#26a69a"/>
<rect x="562" y="743" width="1" height="17" fill="#26a69a"/>
<rect x="564" y="735" width="1" height="20" fill="#26a69a"/>
<rect x="565" y="733" width="1" height="15" fill="#26a69a"/>
<rect x="567" y="731" width="1" height="13" fill="#26a69a"/>
<rect x="569" y="696" width="1" height="45" fill="#26a69a"/>
<rect x="571" y="695" width="1" height="32" fill="#26a69a"/>
<rect x="572" y="700" width="1" height="16" fill="#26a69a"/>
<rect x="574" y="709" width="1" height="11" fill="#ef5350"/>
<rect x="576" y="713" width="1" height="11" fill="#ef5350"/>
<rect x="578" y="716" width="1" height="10" fill="#ef5350"/>
<rect x="579" y="705" width="1" height="17" fill="#26a69a"/>
<rect x="581" y="707" width="1" height="10" fill="#26a69a"/>
<rect x="583" y="712" width="1" height="15" fill="#ef5350"/>
<rect x="584" y="718" width="1" height="19" fill="#ef5350"/>
<rect x="586" y="722" width="1" height="13" fill="#ef5350"/>
<rect x="588" y="726" width="1" height="15" fill="#ef5350"/>
<rect x="590" y="732" width="1" height="14" fill="#ef5350"/>
<rect x="592" y="737" width="1" height="10" fill="#ef5350"/>
<rect x="593" y="739" width="1" height="11" fill="#ef5350"/>
<rect x="595" y="736" width="1" height="16" fill="#ef5350"/>
<rect x="596" y="739" width="1" height="11" fill="#ef5350"/>
<rect x="598" y="743" width="1" height="5" fill="#ef5350"/>
<rect x="600" y="726" width="1" height="22" fill="#26a69a"/>
<rect x="602" y="741" width="1" height="11" fill="#ef5350"/>
<rect x="603" y="731" width="1" height="15" fill="#26a69a"/>
<rect x="605" y="739" width="1" height="13" fill="#ef5350"/>
<rect x="607" y="745" width="1" height="7" fill="#ef5350"/>
<rect x="608" y="726" width="1" height="20" fill="#26a69a"/>
<rect x="610" y="719" width="1" height="22" fill="#26a69a"/>
<rect x="612" y="720" width="1" height="18" fill="#26a69a"/>
<rect x="614" y="724" width="1" height="12" fill="#ef5350"/>
<rect x="615" y="730" width="1" height="36" fill="#ef5350"/>
<rect x="617" y="738" width="1" height="28" fill="#ef5350"/>
<rect x="619" y="746" width="1" height="20" fill="#ef5350"/>
<rect x="620" y="750" width="1" height="24" fill="#ef5350"/>
<rect x="622" y="752" width="1" height="11" fill="#ef5350"/>
<rect x="624" y="756" width="1" height="7" fill="#ef5350"/>
<rect x="626" y="750" width="1" height="27" fill="#ef5350"/>
<rect x="627" y="762" width="1" height="27" fill="#ef5350"/>
<rect x="629" y="770" width="1" height="16" fill="#ef5350"/>
<rect x="631" y="737" width="1" height="40" fill="#26a69a"/>
<rect x="632" y="752" width="1" height="23" fill="#26a69a"/>
<rect x="634" y="748" width="1" height="13" fill="#26a69a"/>
<rect x="636" y="742" width="1" height="16" fill="#26a69a"/>
<rect x="638" y="742" width="1" height="15" fill="#26a69a"/>
<rect x="639" y="750" width="1" height="11" fill="#ef5350"/>
<rect x="641" y="754" width="1" height="11" fill="#ef5350"/>
<rect x="643" y="758" width="1" height="9" fill="#ef5350"/>
<rect x="644" y="759" width="1" height="15" fill="#ef5350"/>
<rect x="646" y="731" width="1" height="35" fill="#26a69a"/>
<rect x="648" y="733" width="1" height="22" fill="#26a69a"/>
<rect x="650" y="739" width="1" height="20" fill="#ef5350"/>
<rect x="651" y="748" width="1" height="11" fill="#ef5350"/>
<rect x="653" y="739" width="1" height="15" fill="#26a69a"/>
<rect x="0" y="287" width="1" height="13" fill="#26a69a"/>
<rect x="2" y="282" width="1" height="19" fill="#26a69a"/>
<rect x="4" y="288" width="1" height="17" fill="#ef5350"/>
<rect x="6" y="282" width="1" height="21" fill="#ef5350"/>
<rect x="7" y="285" width="1" height="13" fill="#26a69a"/>
<rect x="9" y="283" width="1" height="22" fill="#26a69a"/>
<rect x="11" y="283" width="1" height="18" fill="#ef5350"/>
<rect x="12" y="294" width="1" height="16" fill="#ef5350"/>
<rect x="14" y="268" width="1" height="38" fill="#26a69a"/>
<rect x="16" y="265" width="1" height="25" fill="#26a69a"/>
<rect x="18" y="268" width="1" height="18" fill="#26a69a"/>
<rect x="19" y="270" width="1" height="22" fill="#ef5350"/>
<rect x="21" y="280" width="1" height="17" fill="#ef5350"/>
<rect x="23" y="278" width="1" height="15" fill="#26a69a"/>
<rect x="24" y="266" width="1" height="23" fill="#26a69a"/>
<rect x="26" y="261" width="1" height="27" fill="#26a69a"/>
<rect x="28" y="253" width="1" height="24" fill="#26a69a"/>
</g>
<path d="M0.0,305.0 C1.9,303.2 1.4,303.3 5.7,299.6 C10.0,295.9 8.0,297.9 13.0,294.0 C18.0,290.1 16.2,292.4 20.7,288.0 C25.2,283.6 23.0,288.8 26.4,280.7 C29.8,272.6 28.1,277.0 31.0,263.8 C33.9,250.6 32.1,254.9 35.0,241.0 C37.9,227.1 36.5,236.4 39.6,222.0 C42.7,207.6 40.8,209.0 44.3,197.7 C47.8,186.4 45.9,196.2 50.0,188.0 C54.1,179.8 52.6,181.7 56.6,173.0 C60.6,164.3 57.5,170.1 62.0,162.0 C66.5,153.9 65.0,160.0 70.0,148.7 C75.0,137.4 72.7,138.4 77.0,128.0 C81.3,117.6 79.4,121.3 83.0,117.5 C86.6,113.7 84.5,114.4 87.7,116.6 C90.9,118.8 89.4,119.6 92.5,124.0 C95.6,128.4 93.6,129.8 97.0,129.8 C100.4,129.8 99.6,124.6 102.8,124.0 C106.0,123.4 104.4,119.2 106.6,128.0 C108.8,136.8 107.3,138.0 109.4,150.5 C111.5,163.0 110.5,148.1 113.0,165.6 C115.5,183.1 114.4,175.3 117.0,203.0 C119.6,230.7 118.5,216.4 120.7,248.7 C122.9,281.0 121.2,268.4 123.5,300.0 C125.8,331.6 125.8,314.5 127.6,343.5 C129.4,372.5 127.5,359.9 129.0,387.0 C130.5,414.1 130.1,403.4 132.0,424.7 C133.9,446.0 132.5,426.8 134.8,450.9 C137.1,475.0 136.1,465.1 139.0,497.0 C141.9,528.9 140.5,517.6 143.5,546.6 C146.5,575.6 144.5,558.9 147.9,584.0 C151.3,609.1 150.3,620.0 153.7,622.0 C157.1,624.0 155.1,607.4 158.0,590.0 C160.9,572.6 159.1,587.2 162.4,569.8 C165.7,552.4 164.6,553.5 168.0,537.9 C171.4,522.3 168.2,528.3 172.5,523.0 C176.8,517.7 176.2,517.0 181.0,522.0 C185.8,527.0 183.1,529.8 187.0,538.0 C190.9,546.2 188.0,546.6 192.8,546.6 C197.6,546.6 194.8,542.9 201.5,538.0 C208.2,533.1 206.2,539.8 213.0,532.0 C219.8,524.2 216.1,526.1 221.8,514.7 C227.5,503.3 226.0,505.9 230.0,497.8 C234.0,489.7 231.2,494.1 233.7,490.4 C236.2,486.7 234.5,488.4 237.4,486.8 C240.3,485.2 239.0,484.7 242.3,485.5 C245.6,486.3 243.9,486.9 247.2,489.2 C250.5,491.5 249.3,489.6 252.1,492.3 C254.9,495.0 252.9,493.3 255.7,497.2 C258.5,501.1 257.3,499.2 260.6,503.9 C263.9,508.6 262.2,507.8 265.5,511.3 C268.8,514.8 267.5,512.5 270.4,514.3 C273.3,516.1 271.4,514.1 274.1,516.8 C276.8,519.5 275.9,517.6 278.4,522.3 C280.9,527.0 279.3,524.8 281.5,530.9 C283.7,537.0 282.9,535.0 285.1,540.7 C287.3,546.4 286.6,543.1 288.2,548.0 C289.8,552.9 288.6,551.5 290.0,555.4 C291.4,559.3 290.6,558.7 292.5,559.7 C294.4,560.7 293.6,559.9 295.6,558.5 C297.6,557.1 296.4,557.7 298.6,555.4 C300.8,553.1 299.8,553.1 302.3,551.7 C304.8,550.3 303.5,552.7 306.0,551.1 C308.5,549.5 307.3,550.3 309.7,546.8 C312.1,543.3 310.9,545.2 313.3,540.7 C315.7,536.2 314.5,538.2 317.0,533.3 C319.5,528.4 318.4,530.5 320.7,526.0 C323.0,521.5 321.8,522.4 323.8,519.9 C325.8,517.4 324.6,518.4 326.8,518.6 C329.0,518.8 328.0,518.9 330.5,520.5 C333.0,522.1 331.8,522.3 334.2,523.5 C336.6,524.7 335.4,525.1 337.8,524.1 C340.2,523.1 339.0,523.3 341.5,520.5 C344.0,517.7 342.9,518.3 345.2,515.6 C347.5,512.9 346.3,513.1 348.3,512.5 C350.3,511.9 349.5,511.2 351.3,513.7 C353.1,516.2 352.0,515.0 353.8,519.9 C355.6,524.8 354.8,523.1 356.8,528.4 C358.8,533.7 357.6,531.9 359.9,535.8 C362.2,539.7 361.4,538.3 363.6,540.1 C365.8,541.9 364.6,541.7 366.6,541.3 C368.6,540.9 367.4,539.6 369.7,538.8 C372.0,538.0 370.9,538.0 373.4,538.8 C375.9,539.6 374.9,539.2 377.1,541.3 C379.3,543.4 378.3,543.0 380.1,545.0 C381.9,547.0 380.8,547.4 382.6,547.4 C384.4,547.4 383.4,547.4 385.6,545.0 C387.8,542.6 386.8,543.2 389.3,540.1 C391.8,537.0 390.7,538.3 393.0,535.8 C395.3,533.3 394.1,534.1 396.1,532.7 C398.1,531.3 396.9,531.1 399.1,531.5 C401.3,531.9 400.3,531.9 402.8,533.9 C405.3,535.9 404.1,534.9 406.5,537.6 C408.9,540.3 408.1,538.8 410.1,541.9 C412.1,545.0 411.0,542.7 412.6,546.8 C414.2,550.9 413.2,549.7 415.0,554.2 C416.8,558.7 416.0,556.2 418.1,560.3 C420.2,564.4 419.2,562.7 421.2,566.4 C423.2,570.1 422.2,569.9 424.2,571.3 C426.2,572.7 425.2,571.8 427.3,570.7 C429.4,569.6 427.6,569.7 430.5,567.9 C433.4,566.1 432.8,566.8 436.0,565.2 C439.2,563.6 437.4,563.3 440.2,563.1 C443.0,562.9 441.8,562.2 444.3,564.5 C446.8,566.8 445.4,565.2 447.7,570.0 C450.0,574.8 448.9,572.9 451.2,578.9 C453.5,584.9 452.3,580.8 454.6,587.9 C456.9,595.0 456.0,592.3 458.1,600.3 C460.2,608.3 458.7,606.3 460.8,612.0 C462.9,617.7 462.0,613.1 464.3,617.5 C466.6,621.9 465.6,621.4 467.7,625.1 C469.8,628.8 468.4,626.3 470.5,628.6 C472.6,630.9 471.8,628.6 473.9,632.0 C476.0,635.4 475.3,632.9 476.7,638.9 C478.1,644.9 477.2,643.9 478.1,649.9 C479.0,655.9 478.1,652.0 479.5,656.8 C480.9,661.6 480.1,658.4 482.2,664.4 C484.3,670.4 483.9,667.6 485.7,674.7 C487.5,681.8 486.3,678.2 487.7,685.8 C489.1,693.4 488.2,693.6 489.8,697.5 C491.4,701.4 490.2,697.7 492.5,697.5 C494.8,697.3 493.9,696.8 496.7,696.8 C499.5,696.8 498.0,696.8 500.8,697.5 C503.6,698.2 502.7,697.8 505.0,698.9 C507.3,700.0 505.4,700.9 507.7,700.9 C510.0,700.9 509.0,698.9 511.8,698.9 C514.6,698.9 513.5,700.4 516.0,700.9 C518.5,701.4 517.3,699.8 519.4,700.3 C521.5,700.8 520.6,699.8 522.2,702.3 C523.8,704.8 522.8,701.2 524.3,707.8 C525.8,714.4 524.9,711.7 526.8,722.2 C528.7,732.7 527.8,726.1 530.0,739.2 C532.2,752.3 531.3,747.5 533.3,761.4 C535.3,775.3 534.2,769.7 535.9,781.0 C537.6,792.3 537.0,789.1 538.5,795.4 C540.0,801.7 538.8,800.3 540.5,799.9 C542.2,799.5 541.3,798.7 543.7,794.1 C546.1,789.5 545.0,792.1 547.6,786.2 C550.2,780.3 549.0,782.7 551.6,776.4 C554.2,770.1 552.9,771.6 555.5,767.3 C558.1,763.0 556.8,766.2 559.4,763.4 C562.0,760.6 560.7,762.9 563.3,758.8 C565.9,754.7 564.6,757.1 567.2,751.0 C569.8,744.9 568.6,747.9 571.2,740.5 C573.8,733.1 572.5,735.5 575.1,728.8 C577.7,722.1 576.6,724.9 579.0,720.3 C581.4,715.7 580.1,716.0 582.3,715.1 C584.5,714.2 583.1,714.7 585.5,717.7 C587.9,720.7 586.8,719.6 589.4,724.2 C592.0,728.8 590.8,726.6 593.4,731.4 C596.0,736.2 594.7,734.9 597.3,738.6 C599.9,742.3 598.6,740.6 601.2,742.5 C603.8,744.4 602.5,744.2 605.1,744.4 C607.7,744.6 606.4,745.0 609.0,743.1 C611.6,741.2 610.5,740.8 612.9,738.6 C615.3,736.4 614.0,735.7 616.2,736.6 C618.4,737.5 617.1,738.2 619.5,741.2 C621.9,744.2 621.2,742.9 623.4,745.7 C625.6,748.5 624.3,744.9 626.0,749.7 C627.7,754.5 626.9,755.5 628.6,760.1 C630.3,764.7 629.0,763.0 631.2,763.4 C633.4,763.8 632.6,762.7 635.2,761.4 C637.8,760.1 636.5,760.8 639.1,759.5 C641.7,758.2 640.4,758.8 643.0,757.5 C645.6,756.2 644.3,756.6 646.9,755.5 C649.5,754.4 648.1,755.5 650.8,754.2 C653.5,752.9 653.1,754.0 655.0,751.6 C656.9,749.2 654.9,750.1 656.6,746.9 C658.3,743.7 657.3,742.8 660.0,742.1 C662.7,741.4 661.6,743.4 664.8,744.8 C668.0,746.2 666.5,743.9 669.7,746.2 C672.9,748.5 671.1,746.9 674.5,751.7 C677.9,756.5 677.2,754.9 680.0,760.7 C682.8,766.5 680.3,762.6 682.8,769.0 C685.3,775.4 684.6,773.1 687.6,780.0 C690.6,786.9 689.2,785.6 691.7,789.7 C694.2,793.8 692.2,791.7 695.2,792.4 C698.2,793.1 697.5,793.3 700.7,791.7 C703.9,790.1 702.3,789.4 704.8,787.6 C707.3,785.8 706.0,785.1 708.3,786.2 C710.6,787.3 709.4,787.3 711.7,791.0 C714.0,794.7 712.9,793.3 715.2,797.2 C717.5,801.1 716.5,799.1 718.6,802.8 C720.7,806.5 719.8,806.5 721.4,808.3 C723.0,810.1 721.8,810.8 723.4,808.3 C725.0,805.8 724.1,809.7 726.2,800.7 C728.3,791.7 727.2,796.1 729.7,781.4 C732.2,766.7 731.5,771.3 733.8,756.6 C736.1,741.9 734.8,747.3 736.6,737.2 C738.4,727.1 737.2,733.5 739.3,726.2 C741.4,718.9 740.5,720.3 742.8,715.2 C745.1,710.1 743.9,713.1 746.2,711.0 C748.5,708.9 747.4,708.3 749.7,709.0 C752.0,709.7 750.6,710.6 753.1,713.1 C755.6,715.6 754.4,714.3 757.2,716.6 C760.0,718.9 758.9,718.6 761.4,720.0 C763.9,721.4 762.3,721.8 764.8,720.7 C767.3,719.6 766.2,719.8 769.0,716.6 C771.8,713.4 770.6,717.5 773.1,711.0 C775.6,704.5 774.1,705.9 776.6,697.2 C779.1,688.5 778.0,693.1 780.7,684.8 C783.4,676.5 782.0,680.7 784.8,672.4 C787.6,664.1 787.3,665.4 789.0,660.0 C790.7,654.6 788.0,659.4 789.8,656.1 C791.6,652.8 791.4,654.3 794.4,650.2 C797.4,646.1 795.9,650.2 798.9,643.7 C801.9,637.2 800.4,637.6 803.5,630.6 C806.6,623.6 805.0,625.8 808.1,622.8 C811.2,619.8 809.4,623.0 812.7,621.5 C816.0,620.0 814.9,621.3 817.9,618.2 C820.9,615.1 819.2,617.3 821.8,612.3 C824.4,607.3 823.3,609.9 825.7,603.2 C828.1,596.5 827.0,598.2 829.0,592.1 C831.0,586.0 829.9,587.5 831.6,584.9 C833.3,582.3 832.2,583.3 834.2,584.2 C836.2,585.1 835.1,585.1 837.5,587.5 C839.9,589.9 838.8,589.2 841.4,591.4 C844.0,593.6 842.7,593.3 845.3,594.0 C847.9,594.7 846.6,594.3 849.2,593.4 C851.8,592.5 850.0,592.5 853.1,591.4 C856.2,590.3 854.9,590.1 858.4,590.1 C861.9,590.1 860.1,591.6 863.6,591.4 C867.1,591.2 866.0,589.9 868.8,589.5 C871.6,589.1 869.9,588.1 872.1,590.1 C874.3,592.1 873.2,590.4 875.4,595.4 C877.6,600.4 876.4,598.2 878.6,605.1 C880.8,612.0 879.7,609.4 881.9,616.2 C884.1,623.0 882.9,619.3 885.1,625.4 C887.3,631.5 886.2,629.5 888.4,634.5 C890.6,639.5 889.5,638.2 891.7,640.4 C893.9,642.6 892.7,640.7 894.9,641.1 C897.1,641.5 896.0,643.0 898.2,641.7 C900.4,640.4 899.1,641.2 901.5,637.1 C903.9,633.0 902.8,634.5 905.4,629.3 C908.0,624.1 906.7,625.9 909.3,621.5 C911.9,617.1 910.6,618.4 913.2,616.2 C915.8,614.0 914.7,615.1 917.1,614.9 C919.5,614.7 918.2,616.5 920.4,615.6 C922.6,614.7 921.3,616.9 923.7,612.3 C926.1,607.7 925.0,608.9 927.6,601.9 C930.2,594.9 928.9,597.9 931.5,591.4 C934.1,584.9 932.8,587.9 935.4,582.3 C938.0,576.7 936.8,580.2 939.4,574.5 C942.0,568.8 940.7,571.0 943.3,565.3 C945.9,559.6 944.6,562.9 947.2,557.5 C949.8,552.1 948.5,553.4 951.1,549.0 C953.7,544.6 952.0,546.9 955.0,544.4 C958.0,541.9 957.2,543.0 960.0,541.5 C962.8,540.0 961.2,541.4 963.5,539.8 C965.8,538.2 964.8,539.7 966.8,536.6 C968.8,533.5 967.9,533.3 969.5,530.6 C971.1,527.9 970.1,528.6 971.7,528.4 C973.3,528.2 972.4,527.7 974.4,530.1 C976.4,532.5 975.4,531.5 977.6,535.5 C979.8,539.5 978.9,538.4 980.9,542.0 C982.9,545.6 981.8,545.1 983.6,546.4 C985.4,547.7 984.3,547.6 986.3,545.8 C988.3,544.0 987.4,545.1 989.6,540.9 C991.8,536.7 990.9,538.7 992.9,533.3 C994.9,527.9 994.0,528.9 995.6,524.6 C997.2,520.3 996.2,522.0 997.8,520.3 C999.4,518.6 998.5,519.2 1000.5,519.4 C1002.5,519.6 1001.6,519.4 1003.8,520.8 C1006.0,522.2 1004.8,521.3 1007.0,523.5 C1009.2,525.7 1008.1,524.4 1010.3,527.3 C1012.5,530.2 1011.4,528.2 1013.6,532.2 C1015.8,536.2 1014.8,535.3 1016.8,539.3 C1018.8,543.3 1018.0,540.0 1019.5,544.2 C1021.0,548.4 1019.9,546.7 1021.2,551.8 C1022.5,556.9 1021.7,553.2 1023.3,559.4 C1024.9,565.6 1024.3,563.0 1026.1,570.3 C1027.9,577.6 1027.2,575.8 1028.8,581.2 C1030.4,586.6 1029.4,583.3 1031.0,586.6 C1032.6,589.9 1031.7,589.7 1033.7,591.0 C1035.7,592.3 1034.7,591.5 1036.9,590.4 C1039.1,589.3 1038.2,590.4 1040.2,587.7 C1042.2,585.0 1041.3,584.5 1042.9,582.3 C1044.5,580.1 1044.0,579.4 1045.1,581.2 C1046.2,583.0 1045.2,570.6 1046.2,587.7 C1047.2,604.8 1046.7,606.1 1048.0,632.5 C1049.3,658.9 1048.3,639.0 1050.0,667.0 C1051.7,695.0 1051.2,685.6 1053.0,716.6 C1054.8,747.6 1054.0,731.0 1055.5,760.0 C1057.0,789.0 1056.2,778.4 1057.5,803.6 C1058.8,828.8 1058.3,821.0 1059.5,835.5 C1060.7,850.0 1059.3,846.2 1061.0,847.0 C1062.7,847.8 1061.5,845.7 1064.7,838.0 C1067.9,830.3 1066.7,833.7 1070.5,824.0 C1074.3,814.3 1072.2,819.7 1076.0,809.0 C1079.8,798.3 1078.5,802.5 1082.0,792.0 C1085.5,781.5 1083.5,786.7 1086.5,777.5 C1089.5,768.3 1087.5,770.3 1090.9,764.5 C1094.3,758.7 1092.8,758.6 1096.7,760.0 C1100.6,761.4 1098.7,764.5 1102.5,768.8 C1106.3,773.1 1104.2,768.3 1108.0,773.0 C1111.8,777.7 1109.7,780.0 1114.0,783.0 C1118.3,786.0 1116.1,784.2 1121.0,781.9 C1125.9,779.6 1124.3,777.0 1128.6,776.0 C1132.9,775.0 1130.2,777.0 1134.0,779.0 C1137.8,781.0 1136.5,780.9 1140.0,781.9 C1143.5,782.9 1141.2,779.1 1144.5,782.0 C1147.8,784.9 1146.2,784.4 1150.0,790.6 C1153.8,796.8 1154.0,797.3 1156.0,800.7" fill="none" stroke="#2b94e8" stroke-width="1.05" stroke-linejoin="round"/>
<g shape-rendering="crispEdges">
<line x1="0" y1="807.5" x2="1562" y2="807.5" stroke="#ef5350" stroke-width="1" stroke-dasharray="1 2"/>
<line x1="0" y1="809.5" x2="1513" y2="809.5" stroke="#2196f3" stroke-width="1" stroke-dasharray="1 2"/>
<line x1="0" y1="811.5" x2="1513" y2="811.5" stroke="#26a69a" stroke-width="1" stroke-dasharray="1 2"/>
</g>
<rect x="27" y="55" width="129" height="25" rx="4" fill="#009688"/>
<text x="32.2" y="71.9" font-size="14.6" fill="#fff" style="font-family:'DejaVu Sans', 'Liberation Sans', sans-serif" textLength="118.3" lengthAdjust="spacingAndGlyphs">Rechte Schulter</text>
<text class="fib" x="1286" y="186.4" text-anchor="end" fill="#64b5f6">0.786(158.25)</text>
<text class="fib" x="1286" y="395.4" text-anchor="end" fill="#009688">0.618(142.75)</text>
<text class="fib" x="1286" y="542.4" text-anchor="end" fill="#4caf50">0.5(131.90)</text>
<text class="fib" x="1286" y="689.4" text-anchor="end" fill="#81c784">0.382(121.05)</text>
<text class="fib" x="1286" y="871.4" text-anchor="end" fill="#f44336">0.236(107.60)</text>
<text class="fib" x="1286" y="1166.4" text-anchor="end" fill="#787b86">0(85.85)</text>
<g shape-rendering="crispEdges" stroke="#758696" stroke-width="1" stroke-dasharray="5 6">
<line x1="230.5" y1="-5.85" x2="230.5" y2="1296"/>
<line x1="-4" y1="1283.5" x2="1534" y2="1283.5"/>
</g>
<path d="M111.25,1271.25 a3,3 0 0 1 3,-3 h16.5 a3,3 0 0 1 3,3 V1284.4 L122.5,1291.9 L111.25,1284.4 Z" fill="none" stroke="#f23d2f" stroke-width="2" stroke-linejoin="round"/>
<text x="119.0" y="1285.9" font-size="15.4" font-weight="bold" fill="#f2281c" textLength="7.2" lengthAdjust="spacingAndGlyphs">E</text>
<path d="M1103.25,1271.25 a3,3 0 0 1 3,-3 h16.5 a3,3 0 0 1 3,3 V1284.4 L1114.5,1291.9 L1103.25,1284.4 Z" fill="none" stroke="#f23d2f" stroke-width="2" stroke-linejoin="round"/>
<text x="1111.0" y="1285.9" font-size="15.4" font-weight="bold" fill="#f2281c" textLength="7.2" lengthAdjust="spacingAndGlyphs">E</text>
</g>
<path d="M1516,801 h45 v21 h-45 a3,3 0 0 1 -3,-3 v-15 a3,3 0 0 1 3,-3 z" fill="#26a69a"/>
<text x="1520.6" y="816.8" font-size="15" fill="#fff" textLength="31.4" lengthAdjust="spacingAndGlyphs">VAR1</text>
<circle cx="244.5" cy="1240.2" r="17" fill="#000" fill-opacity="0.16" filter="url(#sh)"/>
<circle cx="244.5" cy="1238.2" r="17.5" fill="#fff"/>
<circle cx="289.5" cy="1240.2" r="17" fill="#000" fill-opacity="0.16" filter="url(#sh)"/>
<circle cx="289.5" cy="1238.2" r="17.5" fill="#fff"/>
<circle cx="352" cy="1240.2" r="17" fill="#000" fill-opacity="0.16" filter="url(#sh)"/>
<circle cx="352" cy="1238.2" r="17.5" fill="#fff"/>
<circle cx="397.3" cy="1240.2" r="17" fill="#000" fill-opacity="0.16" filter="url(#sh)"/>
<circle cx="397.3" cy="1238.2" r="17.5" fill="#fff"/>
<circle cx="459.2" cy="1240.2" r="17" fill="#000" fill-opacity="0.16" filter="url(#sh)"/>
<circle cx="459.2" cy="1238.2" r="17.5" fill="#fff"/>
<path d="M237,1238.2 h15" stroke="#50535e" stroke-width="2.2" fill="none" stroke-linecap="butt"/>
<path d="M282,1238.2 h15 M289.5,1230.7 v15" stroke="#50535e" stroke-width="2.2" fill="none" stroke-linecap="butt"/>
<path d="M355.6,1231.2 l-7,7 l7,7" stroke="#50535e" stroke-width="2.2" fill="none" stroke-linecap="butt"/>
<path d="M393.9,1231.2 l7,7 l-7,7" stroke="#50535e" stroke-width="2.2" fill="none" stroke-linecap="butt"/>
<path d="M452.2,1236 a7.4,7.4 0 1 0 7,-5.2 h-3.5 M459.3,1226.3 l-4.4,4.5 l4.4,4.5" stroke="#50535e" stroke-width="2.2" fill="none" stroke-linecap="butt"/>
<g shape-rendering="crispEdges" fill="#dfe0e4">
<rect x="1562" y="0" width="1" height="1331"/>
<rect x="0" y="1296" width="1632" height="1"/>
<rect x="1433" y="1341" width="1" height="27"/>
</g>
<text class="ax" x="1575.5" y="8.9" textLength="44.1" lengthAdjust="spacingAndGlyphs">172.00</text>
<text class="ax" x="1575.5" y="63.0" textLength="44.1" lengthAdjust="spacingAndGlyphs">168.00</text>
<text class="ax" x="1575.5" y="117.1" textLength="44.1" lengthAdjust="spacingAndGlyphs">164.00</text>
<text class="ax" x="1575.5" y="171.3" textLength="44.1" lengthAdjust="spacingAndGlyphs">160.00</text>
<text class="ax" x="1575.5" y="225.4" textLength="44.1" lengthAdjust="spacingAndGlyphs">156.00</text>
<text class="ax" x="1575.5" y="279.5" textLength="44.1" lengthAdjust="spacingAndGlyphs">152.00</text>
<text class="ax" x="1575.5" y="333.7" textLength="44.1" lengthAdjust="spacingAndGlyphs">148.00</text>
<text class="ax" x="1575.5" y="387.8" textLength="44.1" lengthAdjust="spacingAndGlyphs">144.00</text>
<text class="ax" x="1575.5" y="442.0" textLength="44.1" lengthAdjust="spacingAndGlyphs">140.00</text>
<text class="ax" x="1575.5" y="496.1" textLength="44.1" lengthAdjust="spacingAndGlyphs">136.00</text>
<text class="ax" x="1575.5" y="550.2" textLength="44.1" lengthAdjust="spacingAndGlyphs">132.00</text>
<text class="ax" x="1575.5" y="604.4" textLength="44.1" lengthAdjust="spacingAndGlyphs">128.00</text>
<text class="ax" x="1575.5" y="658.5" textLength="44.1" lengthAdjust="spacingAndGlyphs">124.00</text>
<text class="ax" x="1575.5" y="712.6" textLength="44.1" lengthAdjust="spacingAndGlyphs">120.00</text>
<text class="ax" x="1575.5" y="766.8" textLength="44.1" lengthAdjust="spacingAndGlyphs">116.00</text>
<text class="ax" x="1575.5" y="875.0" textLength="44.1" lengthAdjust="spacingAndGlyphs">108.00</text>
<text class="ax" x="1575.5" y="929.2" textLength="44.1" lengthAdjust="spacingAndGlyphs">104.00</text>
<text class="ax" x="1575.5" y="983.3" textLength="44.1" lengthAdjust="spacingAndGlyphs">100.00</text>
<text class="ax" x="1575.5" y="1037.4" textLength="36.2" lengthAdjust="spacingAndGlyphs">96.00</text>
<text class="ax" x="1575.5" y="1091.6" textLength="36.2" lengthAdjust="spacingAndGlyphs">92.00</text>
<text class="ax" x="1575.5" y="1145.7" textLength="36.2" lengthAdjust="spacingAndGlyphs">88.00</text>
<text class="ax" x="1575.5" y="1199.9" textLength="36.2" lengthAdjust="spacingAndGlyphs">84.00</text>
<text class="ax" x="1575.5" y="1254.0" textLength="36.2" lengthAdjust="spacingAndGlyphs">80.00</text>
<path d="M1562,780 h62 a3,3 0 0 1 3,3 v18 h-65 z" fill="#ef5350"/>
<text class="axb" x="1619.6" y="795.8" text-anchor="end" style="fill:#fff" textLength="44" lengthAdjust="spacingAndGlyphs">112.55</text>
<path d="M1562,801 h65 v36 a3,3 0 0 1 -3,3 h-62 z" fill="#26a69a"/>
<text class="axb" x="1619.6" y="816.8" text-anchor="end" style="fill:#fff" textLength="44" lengthAdjust="spacingAndGlyphs">112.40</text>
<text class="ax" x="1574.8" y="834.8" style="fill:#d9f2ee" textLength="37.2" lengthAdjust="spacingAndGlyphs">26:29</text>
<path d="M1537,1270 h24 v26 h-24 a3,3 0 0 1 -3,-3 v-20 a3,3 0 0 1 3,-3 z" fill="#131722"/>
<path d="M1562,1270 h55 a3,3 0 0 1 3,3 v20 a3,3 0 0 1 -3,3 h-55 z" fill="#131722"/>
<circle cx="1547.5" cy="1283.4" r="9.5" fill="none" stroke="#fff" stroke-width="1.2"/>
<path d="M1543,1283.4 h9 M1547.5,1278.9 v9" stroke="#fff" stroke-width="1.2" fill="none"/>
<text class="axb" x="1611.5" y="1289" text-anchor="end" style="fill:#fff">77.50</text>
<text class="ax" x="137.5" y="1318.8" text-anchor="middle" textLength="15" lengthAdjust="spacingAndGlyphs">16</text>
<text class="axb" x="322.5" y="1318.8" text-anchor="middle" textLength="24.3" lengthAdjust="spacingAndGlyphs">Sep</text>
<text class="ax" x="446.5" y="1318.8" text-anchor="middle" textLength="15" lengthAdjust="spacingAndGlyphs">13</text>
<text class="ax" x="554.5" y="1318.8" text-anchor="middle" textLength="15" lengthAdjust="spacingAndGlyphs">22</text>
<text class="axb" x="661.5" y="1318.8" text-anchor="middle" textLength="23.9" lengthAdjust="spacingAndGlyphs">Okt</text>
<text class="ax" x="831.5" y="1318.8" text-anchor="middle" textLength="15" lengthAdjust="spacingAndGlyphs">18</text>
<text class="axb" x="985.5" y="1318.8" text-anchor="middle" textLength="25.9" lengthAdjust="spacingAndGlyphs">Nov</text>
<text class="ax" x="1139.5" y="1318.8" text-anchor="middle" textLength="15" lengthAdjust="spacingAndGlyphs">15</text>
<text class="ax" x="1241.5" y="1318.8" text-anchor="middle" textLength="15" lengthAdjust="spacingAndGlyphs">23</text>
<text class="axb" x="1343.5" y="1318.8" text-anchor="middle" textLength="25.4" lengthAdjust="spacingAndGlyphs">Dez</text>
<text class="ax" x="1480.5" y="1318.8" text-anchor="middle" textLength="15" lengthAdjust="spacingAndGlyphs">13</text>
<path d="M160,1296 h140 v27 a3,3 0 0 1 -3,3 h-134 a3,3 0 0 1 -3,-3 z" fill="#131722"/>
<text class="axb" x="171" y="1318.8" style="fill:#fff" textLength="67" lengthAdjust="spacingAndGlyphs">24 Aug '21</text>
<text class="axb" x="252.6" y="1318.8" style="fill:#fff" textLength="36.7" lengthAdjust="spacingAndGlyphs">09:00</text>
<circle cx="1597" cy="1313.4" r="6.2" fill="none" stroke="#131722" stroke-width="1.3"/>
<line x1="1603.20" y1="1313.40" x2="1606.20" y2="1313.40" stroke="#131722" stroke-width="1.6"/>
<line x1="1601.38" y1="1317.78" x2="1603.51" y2="1319.91" stroke="#131722" stroke-width="1.6"/>
<line x1="1597.00" y1="1319.60" x2="1597.00" y2="1322.60" stroke="#131722" stroke-width="1.6"/>
<line x1="1592.62" y1="1317.78" x2="1590.49" y2="1319.91" stroke="#131722" stroke-width="1.6"/>
<line x1="1590.80" y1="1313.40" x2="1587.80" y2="1313.40" stroke="#131722" stroke-width="1.6"/>
<line x1="1592.62" y1="1309.02" x2="1590.49" y2="1306.89" stroke="#131722" stroke-width="1.6"/>
<line x1="1597.00" y1="1307.20" x2="1597.00" y2="1304.20" stroke="#131722" stroke-width="1.6"/>
<line x1="1601.38" y1="1309.02" x2="1603.51" y2="1306.89" stroke="#131722" stroke-width="1.6"/>
<text class="bb" x="1277.6" y="1360" textLength="134.9" lengthAdjust="spacingAndGlyphs">10:48:31 (UTC+1)</text>
<text class="bb" x="1454.8" y="1360" textLength="34.2" lengthAdjust="spacingAndGlyphs">Anp.</text>
<text class="bb" x="1508" y="1360">%</text>
<text class="bb" x="1543" y="1360" textLength="22.5" lengthAdjust="spacingAndGlyphs">log</text>
<text class="bb" x="1583.6" y="1360" textLength="34.4" lengthAdjust="spacingAndGlyphs">auto</text>
</svg></body></html>
